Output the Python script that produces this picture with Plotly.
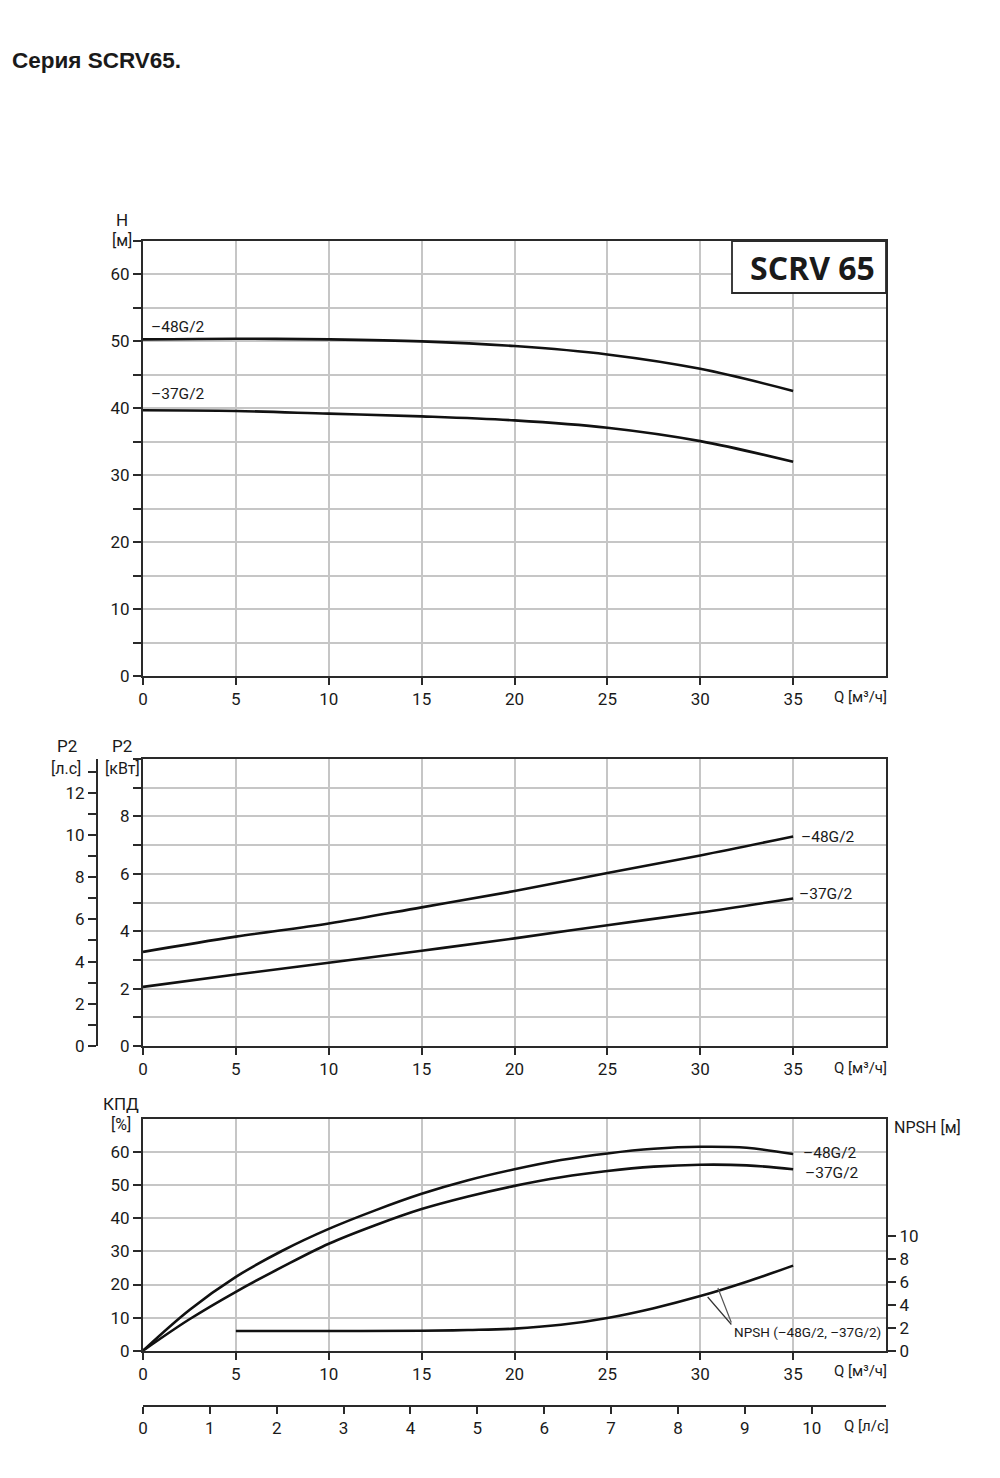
import plotly.graph_objects as go

# ---------------- data ----------------
Q = [0, 5, 10, 15, 20, 25, 30, 35]                  # m3/h
H_48 = [50.3, 50.4, 50.3, 50.0, 49.3, 48.05, 45.9, 42.6]
H_37 = [39.7, 39.6, 39.2, 38.8, 38.2, 37.1, 35.1, 32.0]

P2_48 = [3.28, 3.81, 4.27, 4.83, 5.40, 6.03, 6.64, 7.30]   # kW
P2_37 = [2.06, 2.49, 2.90, 3.32, 3.75, 4.21, 4.65, 5.14]

Q_eff = [0, 2.5, 5, 7.5, 10, 12.5, 15, 17.5, 20, 22.5, 25, 27.5, 30, 32.5, 35]
EFF_48 = [0, 12.3, 22.3, 30.2, 36.8, 42.4, 47.4, 51.5, 54.8, 57.6, 59.6, 61.0, 61.6, 61.3, 59.4]
EFF_37 = [0, 9.5, 17.8, 25.3, 32.3, 37.9, 42.8, 46.6, 49.8, 52.4, 54.3, 55.6, 56.2, 56.0, 54.8]

Q_npsh = [5, 10, 15, 17.5, 20, 22.5, 25, 27.5, 30, 32.5, 35]
NPSH = [1.71, 1.71, 1.73, 1.8, 1.92, 2.25, 2.85, 3.7, 4.75, 6.0, 7.4]

Q_TICKS = [0, 5, 10, 15, 20, 25, 30, 35]
H_TICKS = [0, 10, 20, 30, 40, 50, 60]
KW_TICKS = [0, 2, 4, 6, 8]
HP_TICKS = [0, 2, 4, 6, 8, 10, 12]
EFF_TICKS = [0, 10, 20, 30, 40, 50, 60]
NPSH_TICKS = [0, 2, 4, 6, 8, 10]
LS_TICKS = [0, 1, 2, 3, 4, 5, 6, 7, 8, 9, 10]

KW_TO_HP = 1.36
M3H_TO_LS = 1 / 3.6
Q_MAX = 40

# ---------------- helpers ----------------
OFF = 8                      # default page body margin
W, HGT = 1000 - 2 * OFF, 1478 - 2 * OFF
def px(x):
    return (x - OFF) / W
def py(y):
    return (HGT - (y - OFF)) / HGT

FONT = "Roboto, Noto Sans, sans-serif"
TXT = "#1a1a1a"
GRID = "#c6c6c6"
AX = "#2a2a2a"
CURVE = dict(color="#111111", width=2.6, shape="spline", smoothing=1.0)

fig = go.Figure()

fig.add_trace(go.Scatter(x=Q, y=H_48, mode="lines", line=CURVE, xaxis="x", yaxis="y", hoverinfo="skip"))
fig.add_trace(go.Scatter(x=Q, y=H_37, mode="lines", line=CURVE, xaxis="x", yaxis="y", hoverinfo="skip"))
fig.add_trace(go.Scatter(x=Q, y=P2_48, mode="lines", line=CURVE, xaxis="x2", yaxis="y2", hoverinfo="skip"))
fig.add_trace(go.Scatter(x=Q, y=P2_37, mode="lines", line=CURVE, xaxis="x2", yaxis="y2", hoverinfo="skip"))
fig.add_trace(go.Scatter(x=Q, y=[v * KW_TO_HP for v in P2_48], mode="lines", opacity=0,
                         line=dict(width=0), xaxis="x2", yaxis="y5", hoverinfo="skip"))
fig.add_trace(go.Scatter(x=Q_eff, y=EFF_48, mode="lines", line=CURVE, xaxis="x3", yaxis="y3", hoverinfo="skip"))
fig.add_trace(go.Scatter(x=Q_eff, y=EFF_37, mode="lines", line=CURVE, xaxis="x3", yaxis="y3", hoverinfo="skip"))
fig.add_trace(go.Scatter(x=Q_npsh, y=NPSH, mode="lines", line=CURVE, xaxis="x3", yaxis="y4", hoverinfo="skip"))
fig.add_trace(go.Scatter(x=[q * M3H_TO_LS for q in Q_npsh], y=NPSH, mode="lines", opacity=0,
                         line=dict(width=0), xaxis="x4", yaxis="y4", hoverinfo="skip"))

XDOM = [px(143), px(886)]
tickfont = dict(family=FONT, size=17, color=TXT)

def xax(anchor):
    return dict(domain=XDOM, range=[0, Q_MAX], anchor=anchor, tickvals=Q_TICKS,
                ticks="outside", ticklen=7, tickwidth=1.5, tickcolor=AX,
                showline=True, linecolor=AX, linewidth=2, mirror=True,
                showgrid=True, gridcolor=GRID, gridwidth=1.5, zeroline=False,
                tickfont=tickfont, fixedrange=True, automargin=False)

def yax(domain, rng, tickvals, minor_dtick, anchor):
    d = dict(domain=domain, range=rng, anchor=anchor, tickvals=tickvals,
             ticks="outside", ticklen=8, tickwidth=1.5, tickcolor=AX,
             showline=True, linecolor=AX, linewidth=2, mirror=True,
             showgrid=True, gridcolor=GRID, gridwidth=1.5, zeroline=False,
             tickfont=tickfont, fixedrange=True, automargin=False)
    if minor_dtick:
        d["minor"] = dict(dtick=minor_dtick, tick0=0, ticks="outside", ticklen=8, tickwidth=1.5,
                          tickcolor=AX, showgrid=True, gridcolor=GRID, gridwidth=1.5)
    return d

y1 = yax([py(676), py(241)], [0, 65], H_TICKS, 5, "x")
y2 = yax([py(1046), py(759)], [0, 10], KW_TICKS, 1, "x2")
y3 = yax([py(1350.7), py(1119)], [0, 70], EFF_TICKS, None, "x3")

y5 = dict(overlaying="y2", anchor="free", position=px(97), side="left", range=[0, 10 * KW_TO_HP],
          tickvals=HP_TICKS, ticks="outside", ticklen=8, tickwidth=1.5, tickcolor=AX,
          minor=dict(dtick=1, tick0=0, ticks="outside", ticklen=8, tickwidth=1.5, tickcolor=AX),
          showline=True, linecolor=AX, linewidth=2, showgrid=False, zeroline=False,
          tickfont=tickfont, fixedrange=True, automargin=False)

y4 = dict(overlaying="y3", anchor="x3", side="right", range=[0, (1350.7 - 1119) / 11.5],
          tickvals=NPSH_TICKS, ticks="outside", ticklen=8, tickwidth=1.5, tickcolor=AX,
          showline=True, linecolor=AX, linewidth=2, showgrid=False, zeroline=False,
          tickfont=tickfont, fixedrange=True, automargin=False)

x4 = dict(overlaying="x3", anchor="free", position=py(1406), side="bottom", range=[0, Q_MAX * M3H_TO_LS],
          tickvals=LS_TICKS, ticks="outside", ticklen=7, tickwidth=1.5, tickcolor=AX,
          showline=True, linecolor=AX, linewidth=2, showgrid=False, zeroline=False,
          tickfont=tickfont, fixedrange=True, automargin=False)

def lab(text, x, y, xanchor="center", size=17, bold=False, family=FONT):
    t = "<b>%s</b>" % text if bold else text
    return dict(text=t, x=px(x), y=py(y), xref="paper", yref="paper", xanchor=xanchor, yanchor="middle",
                showarrow=False, font=dict(family=family, size=size, color=TXT))

def dlab(text, x, y, xref, yref, xanchor="left", size=15):
    return dict(text=text, x=x, y=y, xref=xref, yref=yref, xanchor=xanchor, yanchor="middle",
                showarrow=False, font=dict(family=FONT, size=size, color=TXT))

annotations = [
    lab("Серия SCRV65.", 10, 61, xanchor="left", size=22.5, bold=True,
        family="Liberation Sans, Arial, sans-serif"),
    lab("H", 122, 220), lab("[м]", 122, 241, size=16),
    lab("P2", 67, 746), lab("[л.с]", 66, 768, size=16),
    lab("P2", 122, 746), lab("[кВт]", 122, 768, size=16),
    lab("КПД", 121, 1104), lab("[%]", 121, 1124, size=16),
    lab("NPSH [м]", 892, 1127, xanchor="left", size=16),
    lab("Q [м³/ч]", 860, 697, size=15), lab("Q [м³/ч]", 860, 1068, size=15),
    lab("Q [м³/ч]", 860, 1371, size=15),
    lab("Q [л/с]", 866, 1426, size=15),
    lab("SCRV 65", 812, 268, size=32, bold=True, family="Open Sans"),
    dlab("–48G/2", 0.3, 52.1, "x", "y", size=15.5),
    dlab("–37G/2", 0.3, 42.2, "x", "y", size=15.5),
    dlab("–48G/2", 35.3, 7.27, "x2", "y2", size=15.5),
    dlab("–37G/2", 35.2, 5.29, "x2", "y2", size=15.5),
    dlab("–48G/2", 35.4, 59.8, "x3", "y3", size=15.5),
    dlab("–37G/2", 35.55, 53.8, "x3", "y3", size=15.5),
    dlab("NPSH (–48G/2, –37G/2)", 39.85, 5.6, "x3", "y3", xanchor="right", size=13.5),
    dict(text="", x=30.4, y=4.67, xref="x3", yref="y4", showarrow=True, arrowhead=0, arrowwidth=1.2,
         arrowcolor="#333", ax=25, ay=29, standoff=0),
    dict(text="", x=30.95, y=5.45, xref="x3", yref="y4", showarrow=True, arrowhead=0, arrowwidth=1.2,
         arrowcolor="#555", ax=14, ay=36, standoff=0),
]

shapes = [
    dict(type="rect", xref="paper", yref="paper", x0=px(732), x1=px(886), y0=py(293), y1=py(241),
         fillcolor="white", line=dict(color=AX, width=1.8), layer="above"),
]

fig.update_layout(
    width=W, height=HGT, autosize=False,
    margin=dict(l=0, r=0, t=0, b=0, pad=0),
    paper_bgcolor="white", plot_bgcolor="white",
    showlegend=False,
    xaxis=xax("y"), xaxis2=xax("y2"), xaxis3=xax("y3"), xaxis4=x4,
    yaxis=y1, yaxis2=y2, yaxis3=y3, yaxis4=y4, yaxis5=y5,
    annotations=annotations, shapes=shapes,
)

fig.write_html("out.html")
